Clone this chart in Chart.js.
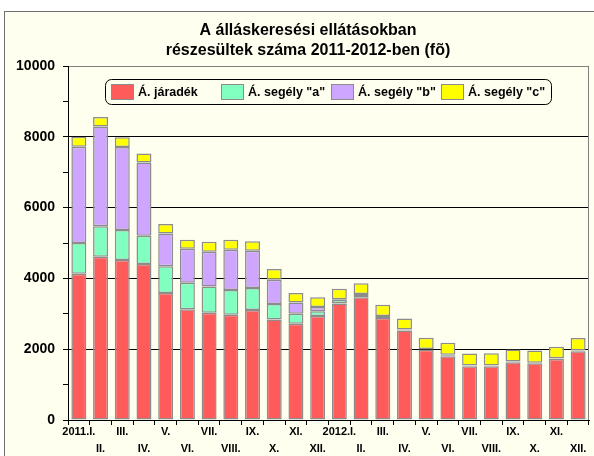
<!DOCTYPE html>
<html>
<head>
<meta charset="utf-8">
<script src="https://cdn.jsdelivr.net/npm/chart.js@4.4.0/dist/chart.umd.min.js"></script>
<style>
  body { margin: 0; background: #fff; }
  #wrap { width: 594px; height: 456px; }
</style>
</head>
<body>
<div id="wrap"><canvas id="chart" width="594" height="456"></canvas></div>
<script>
const months = ['2011.I.', 'II.', 'III.', 'IV.', 'V.', 'VI.', 'VII.', 'VIII.', 'IX.', 'X.', 'XI.', 'XII.',
  '2012.I.', 'II.', 'III.', 'IV.', 'V.', 'VI.', 'VII.', 'VIII.', 'IX.', 'X.', 'XI.', 'XII.'];
const jaradek = [4130, 4610, 4520, 4410, 3590, 3130, 3030, 2975, 3110, 2840, 2720, 2935,
  3290, 3470, 2880, 2530, 1985, 1800, 1520, 1520, 1630, 1600, 1720, 1940];
const segelyA = [870, 865, 845, 795, 750, 750, 740, 700, 620, 440, 280, 140,
  100, 30, 30, 15, 10, 30, 10, 10, 10, 10, 10, 10];
const segelyB = [2720, 2815, 2345, 2070, 930, 955, 985, 1135, 1050, 685, 320, 120,
  20, 60, 30, 15, 10, 15, 10, 10, 10, 10, 15, 10];
const segelyC = [280, 270, 280, 255, 270, 255, 280, 280, 270, 300, 265, 275,
  295, 300, 315, 310, 320, 340, 340, 345, 340, 340, 325, 355];
const seriesNames = ['Á. járadék', 'Á. segély "a"', 'Á. segély "b"', 'Á. segély "c"'];
const titleLines = ['A álláskeresési ellátásokban', 'részesültek száma 2011-2012-ben (fõ)'];

const colors = ['#FF5B5B', '#80FFC0', '#CFA6FF', '#FFFF00'];
const FONT = '"Liberation Sans", Arial, sans-serif';

// background, frame, title and the boxed legend (Excel style)
const decor = {
  id: 'decor',
  beforeDraw(chart) {
    const ctx = chart.ctx;
    ctx.save();
    ctx.fillStyle = '#fff';
    ctx.fillRect(0, 0, chart.width, chart.height);
    ctx.fillStyle = '#FFFFF0';
    ctx.fillRect(4, 11, chart.width, chart.height);
    ctx.strokeStyle = '#707070';
    ctx.lineWidth = 1;
    ctx.strokeRect(4.5, 11.5, chart.width + 10, chart.height + 10);

    ctx.fillStyle = '#000';
    ctx.font = 'bold 16px ' + FONT;
    ctx.textAlign = 'center';
    ctx.textBaseline = 'middle';
    ctx.fillText(titleLines[0], 308, 31);
    ctx.fillText(titleLines[1], 308, 50.5);
    ctx.restore();
  },
  afterDraw(chart) {
    const ctx = chart.ctx;
    const area = chart.chartArea;
    ctx.save();
    ctx.strokeStyle = '#808080';
    ctx.lineWidth = 1;
    ctx.beginPath();
    ctx.moveTo(Math.round(area.right) - 0.5, area.top);
    ctx.lineTo(Math.round(area.right) - 0.5, area.bottom);
    ctx.stroke();

    // legend
    ctx.fillStyle = '#FFFFF0';
    ctx.strokeStyle = '#000';
    ctx.beginPath();
    ctx.roundRect(105.5, 79.5, 446, 25, 6);
    ctx.fill();
    ctx.stroke();
    ctx.font = 'bold 12.5px ' + FONT;
    ctx.textAlign = 'left';
    ctx.textBaseline = 'middle';
    chart.data.datasets.forEach((ds, i) => {
      const x = 111 + i * 110;
      ctx.fillStyle = ds.backgroundColor;
      ctx.fillRect(x, 84, 23, 16);
      ctx.strokeStyle = '#8C8C8C';
      ctx.strokeRect(x + 0.5, 84.5, 22, 15);
      ctx.fillStyle = '#000';
      ctx.fillText(ds.label, x + 27, 92.5);
    });
    ctx.restore();
  }
};

const datasets = [jaradek, segelyA, segelyB, segelyC].map((vals, i) => ({
  label: seriesNames[i],
  data: vals,
  backgroundColor: colors[i],
  borderColor: '#8C8C8C',
  borderWidth: 1.5,
  borderSkipped: false,
  barPercentage: 0.69,
  categoryPercentage: 1
}));

new Chart(document.getElementById('chart'), {
  type: 'bar',
  data: { labels: months, datasets },
  plugins: [decor],
  options: {
    responsive: false,
    animation: false,
    layout: { padding: { left: 4, top: 66, right: 5, bottom: 0 } },
    plugins: {
      legend: { display: false },
      title: { display: false },
      tooltip: { enabled: false }
    },
    scales: {
      x: {
        stacked: true,
        offset: true,
        afterFit: s => { s.height = 36; },
        border: { color: '#000', width: 1 },
        grid: { offset: true, drawOnChartArea: false, color: '#000', tickLength: 5 },
        ticks: {
          autoSkip: false,
          maxRotation: 0,
          padding: -1,
          color: '#000',
          font: { family: FONT, size: 11, weight: 'bold', lineHeight: 1.5 },
          callback: (v, i) => i % 2 === 0 ? [months[i], ''] : ['', months[i]]
        }
      },
      y: {
        stacked: true,
        min: 0,
        max: 10000,
        afterFit: s => { s.width = 64; },
        border: { color: '#000', width: 1 },
        grid: {
          color: c => c.tick.value === 10000 ? '#808080' : (c.tick.value % 2000 === 0 ? '#000' : 'rgba(0,0,0,0)'),
          tickColor: '#000',
          tickLength: 5
        },
        ticks: {
          stepSize: 1000,
          padding: 8,
          color: '#000',
          font: { family: FONT, size: 14, weight: 'bold' },
          callback: v => v % 2000 === 0 ? String(v) : ''
        }
      }
    }
  }
});
</script>
</body>
</html>
